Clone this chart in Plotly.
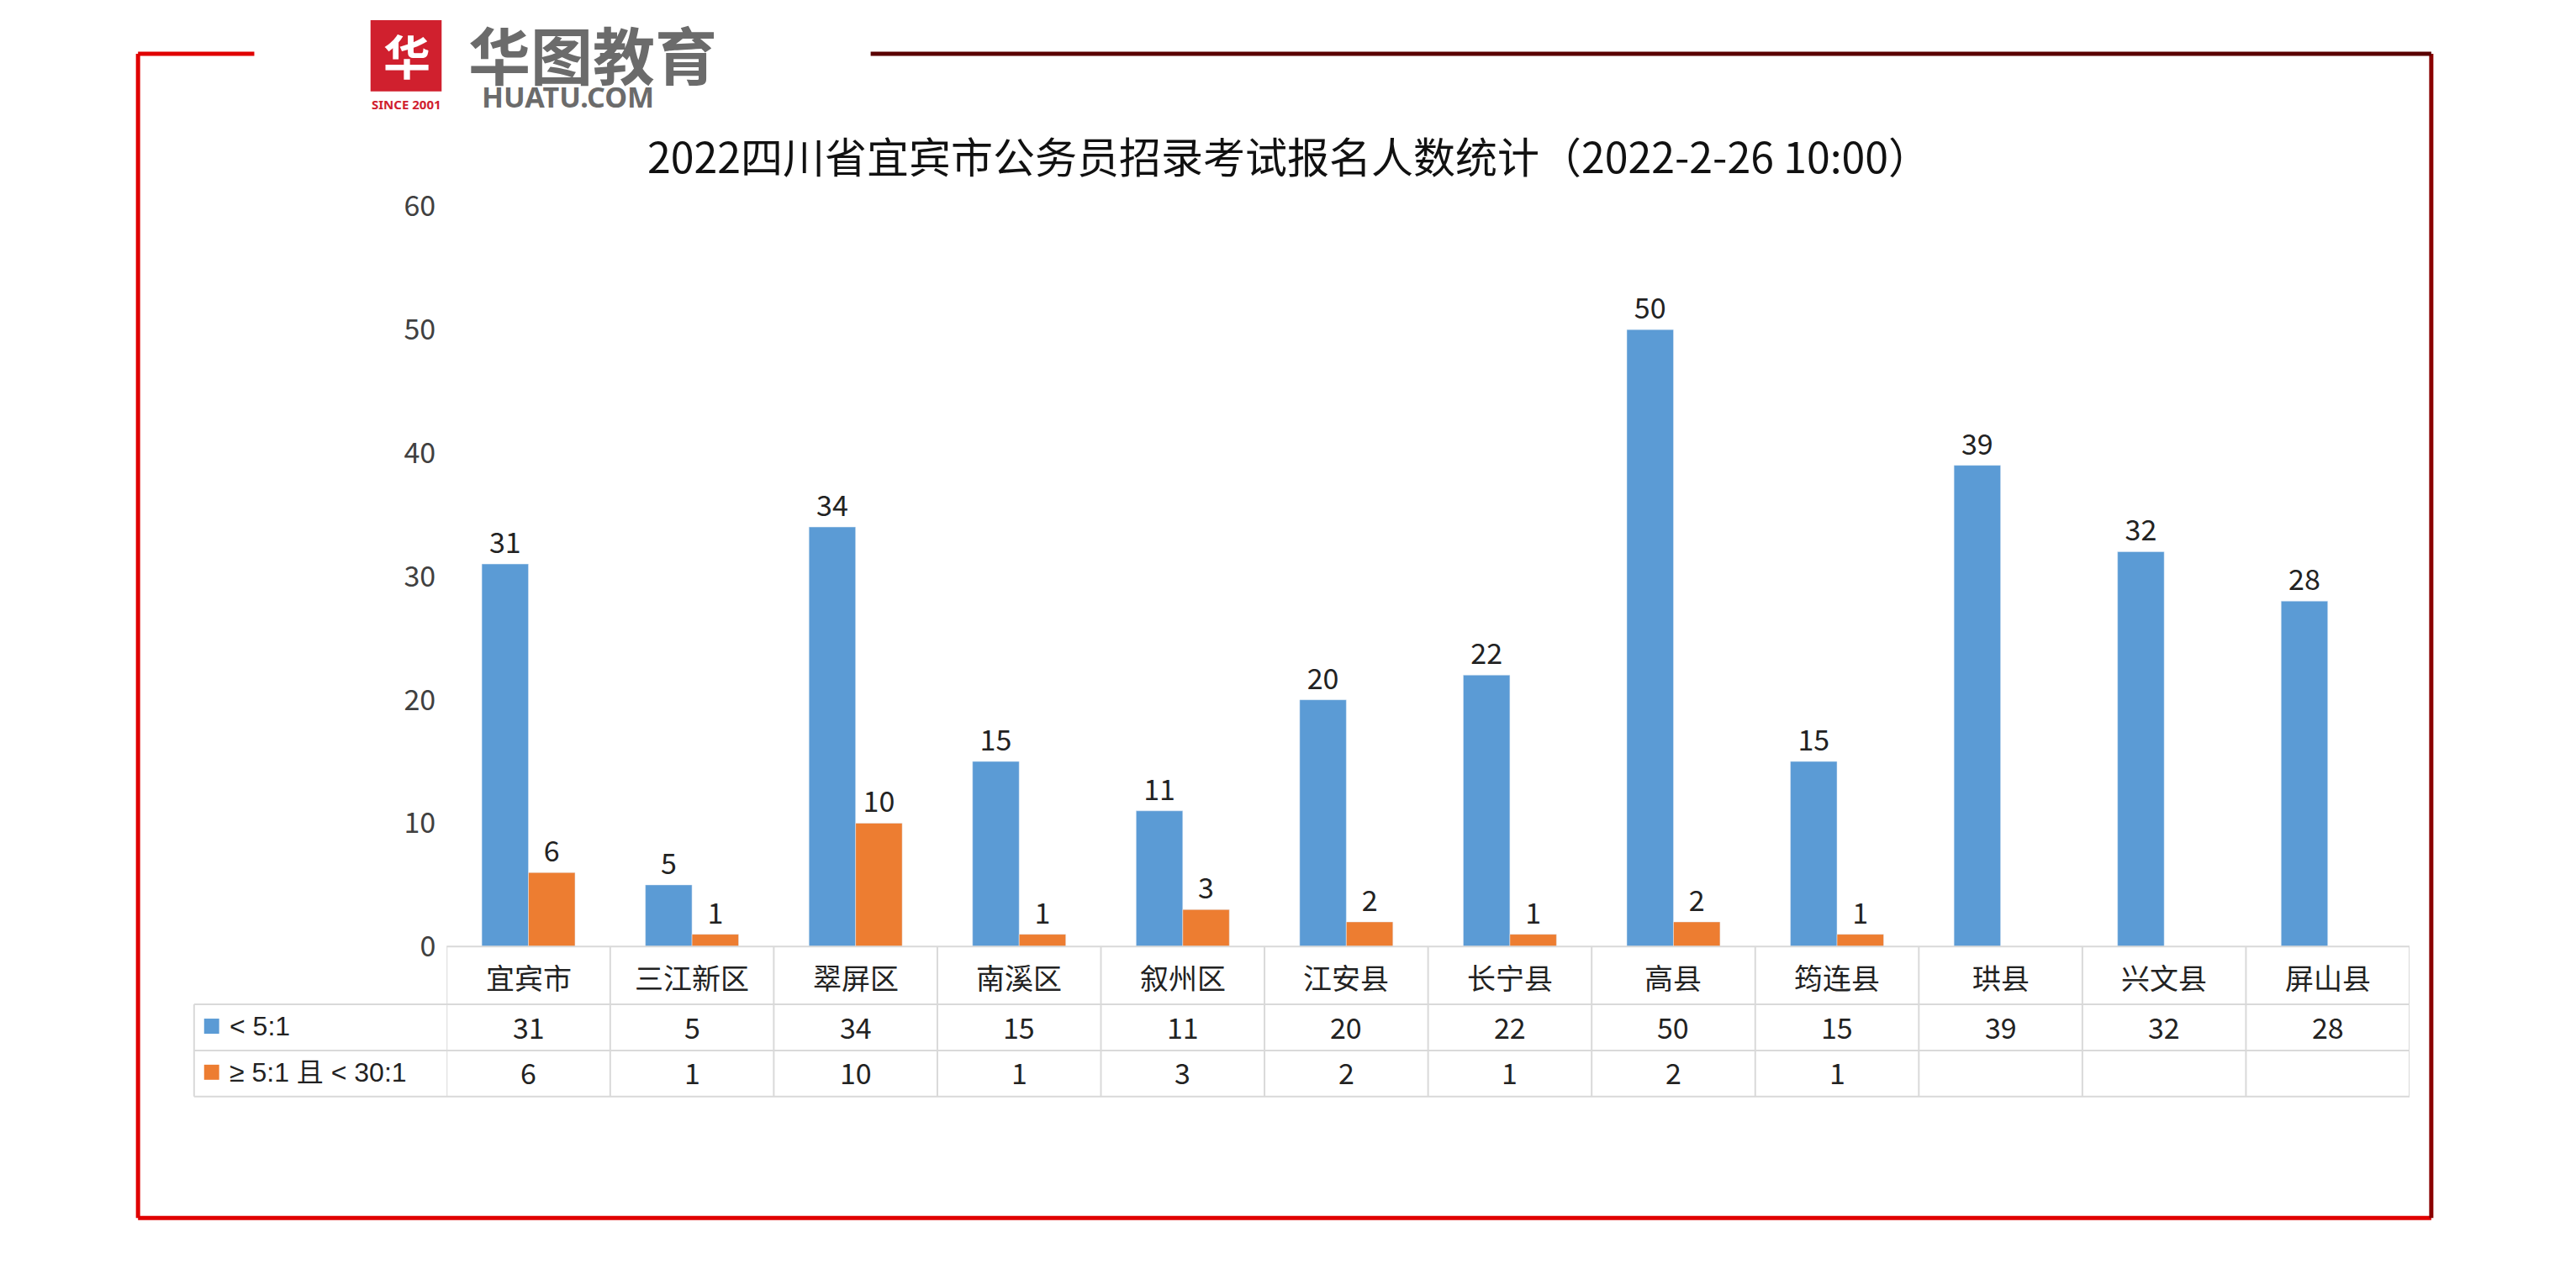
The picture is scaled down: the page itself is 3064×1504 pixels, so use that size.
import plotly.graph_objects as go

W, H = 3064, 1504

categories = ['宜宾市', '三江新区', '翠屏区', '南溪区', '叙州区', '江安县', '长宁县', '高县', '筠连县', '珙县', '兴文县', '屏山县']
low_ratio = [31, 5, 34, 15, 11, 20, 22, 50, 15, 39, 32, 28]
mid_ratio = [6, 1, 10, 1, 3, 2, 1, 2, 1, None, None, None]
series_names = ['< 5:1', '≥ 5:1 且 < 30:1']
blue, orange = '#5B9BD5', '#ED7D31'

# page offset / height correction measured from the rendered screenshot
OX, OY, SY = 8, 34, 0.96


def px_x(v):
    return (v - OX) / W


def px_y(v):
    return 1 - ((v - OY) / SY) / H


font = 'Noto Sans CJK SC'
x0, x1 = 534, 2881
fig = go.Figure()
for name, vals, col in [(series_names[0], low_ratio, blue), (series_names[1], mid_ratio, orange)]:
    fig.add_trace(go.Bar(x=list(range(12)), y=vals, name=name, marker_color=col,
                         text=[v if v is not None else '' for v in vals], textposition='outside',
                         textfont=dict(size=34, color='#222'), cliponaxis=False))

fig.update_layout(
    autosize=True, margin=dict(l=0, r=0, t=0, b=0),
    paper_bgcolor='white', plot_bgcolor='white', showlegend=False,
    barmode='group', bargap=0.43, bargroupgap=0,
    font=dict(family=font, color='#404040'),
    xaxis=dict(domain=[px_x(x0), px_x(x1)], range=[-0.5, 11.5], showticklabels=False,
               showgrid=False, zeroline=False, ticks=''),
    yaxis=dict(domain=[px_y(1129), px_y(245)], range=[0, 60], dtick=10, showgrid=False,
               zeroline=False, tickfont=dict(size=34, color='#404040'), ticks='', ticklabelstandoff=12),
)

shapes = []
ann = []


def label(x, y, text, size, color='#222', xref='paper', xanchor='center', family=None):
    f = dict(size=size, color=color)
    if family:
        f['family'] = family
    ann.append(dict(x=x, y=px_y(y), xref=xref, yref='paper', text=text, showarrow=False,
                    xanchor=xanchor, yanchor='middle', font=f))


grid = dict(color='#D9D9D9', width=2)
# table horizontal lines
for yy, xl in [(1129, x0), (1198, 232), (1253, 232), (1308, 232)]:
    shapes.append(dict(type='line', xref='paper', yref='paper', x0=px_x(xl), x1=px_x(x1),
                       y0=px_y(yy), y1=px_y(yy), line=grid))
# vertical lines
for i in range(13):
    shapes.append(dict(type='line', xref='x', yref='paper', x0=i - 0.5, x1=i - 0.5,
                       y0=px_y(1129), y1=px_y(1308), line=grid))
shapes.append(dict(type='line', xref='paper', yref='paper', x0=px_x(232), x1=px_x(232),
                   y0=px_y(1198), y1=px_y(1308), line=grid))
for i, c in enumerate(categories):
    label(i, 1165, c, 34, xref='x')
    label(i, 1224, str(low_ratio[i]), 34, xref='x')
    if mid_ratio[i] is not None:
        label(i, 1279, str(mid_ratio[i]), 34, xref='x')
for yy, name, col in [(1224, series_names[0], blue), (1279, series_names[1], orange)]:
    shapes.append(dict(type='rect', xref='paper', yref='paper', x0=px_x(244), x1=px_x(262),
                       y0=px_y(yy + 9), y1=px_y(yy - 9), fillcolor=col, line=dict(width=0)))
    label(px_x(272), yy, name, 32, xanchor='left', family='Liberation Sans, Noto Sans CJK SC')

# frame
red, dark = '#E00000', '#5a0000'
frame = [(165, 63, 165, 1453, red), (165, 1453, 2907, 1453, red), (2907, 63, 2907, 1453, '#8a0000'),
         (165, 63, 304, 63, red), (1041, 63, 2907, 63, dark)]
for a, b, c, d, col in frame:
    shapes.append(dict(type='line', xref='paper', yref='paper', x0=px_x(a), y0=px_y(b),
                       x1=px_x(c), y1=px_y(d), line=dict(color=col, width=5)))

# logo
shapes.append(dict(type='rect', xref='paper', yref='paper', x0=px_x(443), x1=px_x(528),
                   y0=px_y(108), y1=px_y(23), fillcolor='#D0202E', line=dict(width=0)))
label(px_x(486), 64, '<b>华</b>', 56, color='white')
label(px_x(486), 123, '<b>SINCE 2001</b>', 15, color='#D0202E', family='Noto Sans')
label(px_x(558), 62, '<b>华图教育</b>', 74, color='#6b6b6b', xanchor='left')
label(px_x(574), 114, '<b>HUATU.COM</b>', 34, color='#6b6b6b', xanchor='left', family='Noto Sans')

label(px_x(1541), 184, '2022四川省宜宾市公务员招录考试报名人数统计（2022-2-26 10:00）', 50, color='#111')

fig.update_layout(shapes=shapes, annotations=ann)
fig.write_html("out.html")
